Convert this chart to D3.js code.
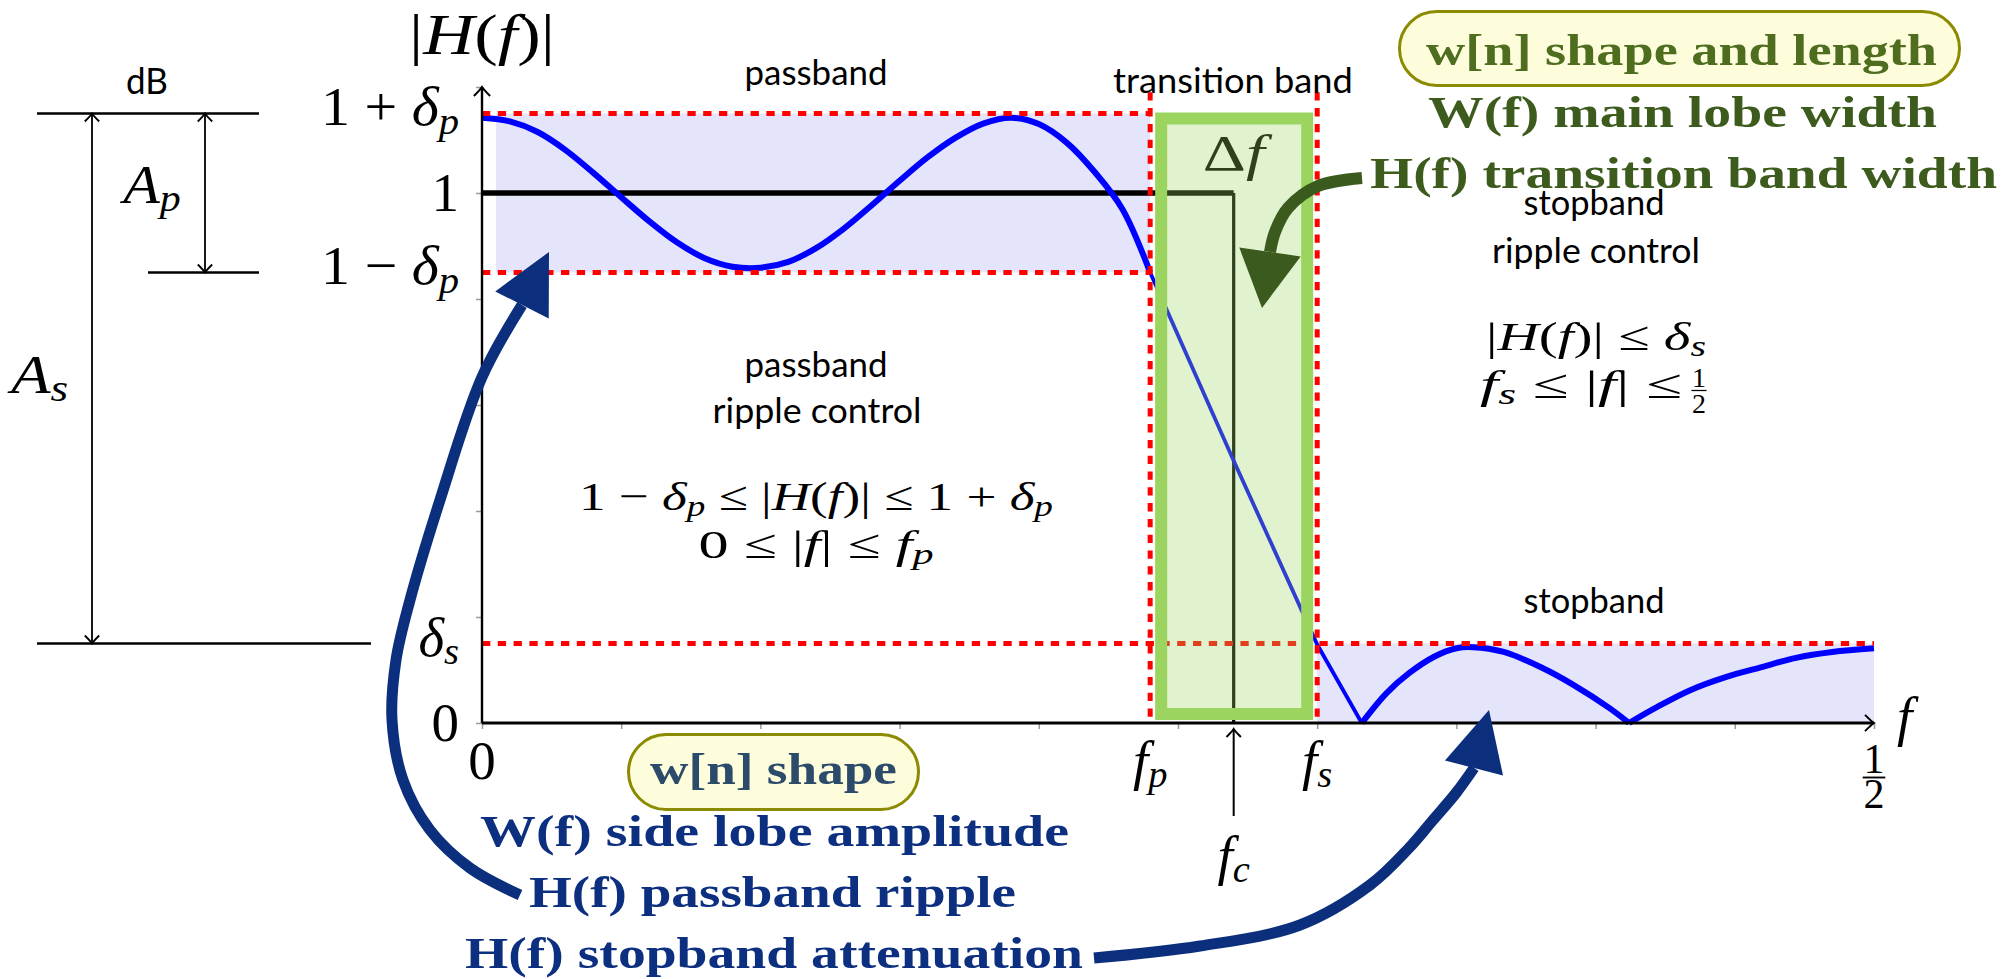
<!DOCTYPE html>
<html>
<head>
<meta charset="utf-8">
<script src="https://cdn.jsdelivr.net/npm/d3@7"></script>
<style>
  body { margin: 0; background: #fff; }
  text { white-space: pre; }
</style>
</head>
<body>
<svg id="chart" width="2002" height="979"></svg>
<script>
// filter spec (normalised frequency 0..1/2, linear magnitude)
const deltaP = 0.15;
const deltaS = 0.15;
const fPass = 0.24;
const fStop = 0.30;
const fCut = 0.27;

// |H(f)|
const passF = [0, 0.01, 0.02, 0.03, 0.04, 0.05, 0.06, 0.07, 0.08, 0.09, 0.10, 0.11, 0.12,
               0.13, 0.14, 0.15, 0.16, 0.17, 0.18, 0.19, 0.20, 0.21, 0.22, 0.23, 0.24];
const passH = [1.142, 1.135, 1.115, 1.081, 1.038, 0.992, 0.947, 0.907, 0.877, 0.861, 0.859, 0.870, 0.896,
               0.933, 0.977, 1.023, 1.067, 1.104, 1.131, 1.142, 1.130, 1.095, 1.040, 0.970, 0.850];
const transF = [0.24, 0.27, 0.30, 0.316];
const transH = [0.85, 0.495, 0.148, 0];
const stopF = [0.316, 0.325, 0.333, 0.342, 0.350, 0.356, 0.367, 0.380, 0.392, 0.405, 0.412,
               0.422, 0.434, 0.447, 0.460, 0.472, 0.485, 0.500];
const stopH = [0, 0.057, 0.094, 0.125, 0.141, 0.143, 0.134, 0.106, 0.072, 0.028, 0,
               0.030, 0.062, 0.087, 0.106, 0.123, 0.134, 0.141];

// ideal low-pass
const idealF = [0, fCut, fCut];
const idealH = [1, 1, 0];

// ticks and labels
const xTicks = [0, 0.05, 0.10, 0.15, 0.20, 0.25, 0.30, 0.35, 0.40, 0.45, 0.50];
const yTicks = [0, 0.2, 0.4, 0.6, 0.8, 1.0, 1.2];
const xLabelVals = [0, fPass, fStop];
const xLabels = ["0", "f_p", "f_s"];
const yLabelVals = [1 + deltaP, 1, 1 - deltaP, deltaS, 0];
const yLabels = ["1 + δ_p", "1", "1 − δ_p", "δ_s", "0"];

const serif = "'Liberation Serif', 'Times New Roman', serif";
const sans = "Lato, 'Open Sans', sans-serif";

const svg = d3.select("#chart");
const x = d3.scaleLinear().domain([0, 0.5]).range([482, 1874]);
const y = d3.scaleLinear().domain([0, 1.2]).range([723, 87]);

// letters italic, digits/symbols upright, "_c" -> subscript
function mathText(t, str, size) {
  const runs = [];
  for (let i = 0; i < str.length; i++) {
    let c = str[i], sub = false;
    if (c === "_") { sub = true; c = str[++i]; }
    const it = /[A-Za-zα-ω]/.test(c);
    const last = runs[runs.length - 1];
    if (last && last.it === it && last.sub === sub) last.t += c;
    else runs.push({ t: c, it: it, sub: sub });
  }
  let down = false;
  runs.forEach(r => {
    const ts = t.append("tspan").text(r.t).attr("font-style", r.it ? "italic" : "normal");
    if (r.sub) {
      ts.attr("font-size", size * 0.7);
      if (!down) { ts.attr("dy", size * 0.15); down = true; }
    } else if (down) {
      ts.attr("dy", -size * 0.15); down = false;
    }
  });
  return t;
}

// stretch a text horizontally (about its anchor) to the width it has in the figure
function fit(t, w) {
  if (!w) return t;
  const ax = +t.attr("x");
  const s = w / t.node().getBBox().width;
  t.attr("transform", `translate(${ax},0) scale(${s},1) translate(${-ax},0)`);
  return t;
}

function math(px, py, str, size, anchor, w) {
  const t = svg.append("text")
    .attr("x", px).attr("y", py)
    .attr("font-family", serif).attr("font-size", size)
    .attr("text-anchor", anchor || "middle");
  return fit(mathText(t, str, size), w);
}

function label(px, py, str, size, w) {
  const t = svg.append("text").attr("x", px).attr("y", py)
    .attr("font-family", sans).attr("font-size", size)
    .attr("text-anchor", "middle").text(str);
  return fit(t, w);
}

function fraction(cx, numY, barY, denY, size) {
  svg.append("text").attr("x", cx).attr("y", numY).attr("font-family", serif)
    .attr("font-size", size).attr("text-anchor", "middle").text("1");
  svg.append("line").attr("x1", cx - size * 0.27).attr("x2", cx + size * 0.27)
    .attr("y1", barY).attr("y2", barY).attr("stroke", "black").attr("stroke-width", size * 0.045);
  svg.append("text").attr("x", cx).attr("y", denY).attr("font-family", serif)
    .attr("font-size", size).attr("text-anchor", "middle").text("2");
}

function tikzArrow(px, py, angle, size, width) {
  const s = size || 8;
  svg.append("path")
    .attr("d", `M${-s},${-s * 0.9} Q${-s * 0.25},${-s * 0.15} 0,0 Q${-s * 0.25},${s * 0.15} ${-s},${s * 0.9}`)
    .attr("transform", `translate(${px},${py}) rotate(${angle})`)
    .attr("fill", "none").attr("stroke", "black").attr("stroke-width", width || 1.8);
}

function fatArrow(points, tip, halfW, color, width) {
  const base = points[points.length - 1];
  svg.append("path")
    .attr("d", d3.line().curve(d3.curveCatmullRom.alpha(0.5))(points))
    .attr("fill", "none").attr("stroke", color).attr("stroke-width", width);
  const dx = tip[0] - base[0], dy = tip[1] - base[1];
  const len = Math.hypot(dx, dy);
  const nx = -dy / len, ny = dx / len;
  svg.append("path")
    .attr("d", `M${base[0] + nx * halfW},${base[1] + ny * halfW} L${tip[0]},${tip[1]} L${base[0] - nx * halfW},${base[1] - ny * halfW} Z`)
    .attr("fill", color);
}

// tolerance shading
svg.append("rect")
  .attr("x", x(0.005)).attr("y", y(1 + deltaP))
  .attr("width", x(fPass) - x(0.005)).attr("height", y(1 - deltaP) - y(1 + deltaP))
  .attr("fill", "#e4e4fa");
svg.append("rect")
  .attr("x", x(fStop)).attr("y", y(deltaS))
  .attr("width", x(0.5) - x(fStop)).attr("height", y(0) - y(deltaS))
  .attr("fill", "#e4e4fa");

// ideal response
svg.append("line").attr("x1", x(idealF[0])).attr("x2", x(idealF[1]))
  .attr("y1", y(idealH[0])).attr("y2", y(idealH[1]))
  .attr("stroke", "black").attr("stroke-width", 5.5);
svg.append("line").attr("x1", x(idealF[1])).attr("x2", x(idealF[2]))
  .attr("y1", y(idealH[1])).attr("y2", y(idealH[2]))
  .attr("stroke", "black").attr("stroke-width", 3.2);

// delta f (sits under the translucent box)
math(x(fCut), 170, "Δf", 50, "middle", 70);

// actual response
const zip = (F, Hs) => F.map((f, i) => [f, Hs[i]]);
const resp = d3.line().x(d => x(d[0])).y(d => y(d[1]));
svg.append("path").attr("d", resp.curve(d3.curveCatmullRom.alpha(0.5))(zip(passF, passH)))
  .attr("fill", "none").attr("stroke", "#0000ff").attr("stroke-width", 6);
svg.append("path").attr("d", resp.curve(d3.curveLinear)(zip(transF, transH)))
  .attr("fill", "none").attr("stroke", "#0000ff").attr("stroke-width", 3.8);
// split the stopband at its zeros so the notches stay sharp
let lobe = [];
zip(stopF, stopH).forEach((p, i) => {
  lobe.push(p);
  if ((p[1] === 0 && lobe.length > 1) || i === stopF.length - 1) {
    svg.append("path").attr("d", resp.curve(d3.curveCatmullRom.alpha(0.5))(lobe))
      .attr("fill", "none").attr("stroke", "#0000ff").attr("stroke-width", 6);
    lobe = [p];
  }
});

// spec limits
function redDash(x1, y1, x2, y2) {
  svg.append("line").attr("x1", x1).attr("y1", y1).attr("x2", x2).attr("y2", y2)
    .attr("stroke", "#ff0000").attr("stroke-width", 5).attr("stroke-dasharray", "8.3 7.5");
}
redDash(x(0), y(1 + deltaP), x(fPass), y(1 + deltaP));
redDash(x(0), y(1 - deltaP), x(fPass), y(1 - deltaP));
redDash(x(0), y(deltaS), x(0.5), y(deltaS));
redDash(x(fPass), y(1.19), x(fPass), y(0));
redDash(x(fStop), y(1.19), x(fStop), y(0));

// transition band box
svg.append("rect")
  .attr("x", x(fPass) + 11).attr("y", y(1 + deltaP) + 5)
  .attr("width", x(fStop) - x(fPass) - 21).attr("height", y(0) - 9 - y(1 + deltaP) - 5)
  .attr("fill", "#9bd45e").attr("fill-opacity", 0.3)
  .attr("stroke", "#9bd45e").attr("stroke-width", 12);

// axes
const gx = svg.append("g").attr("transform", `translate(0,${y(0)})`)
  .call(d3.axisBottom(x).tickValues(xTicks).tickFormat("").tickSize(6).tickSizeOuter(0));
gx.select(".domain").remove();
gx.selectAll(".tick line").attr("stroke", "#999").attr("stroke-width", 1.5);
const gy = svg.append("g").attr("transform", `translate(${x(0)},0)`)
  .call(d3.axisLeft(y).tickValues(yTicks).tickFormat("").tickSize(6).tickSizeOuter(0));
gy.select(".domain").remove();
gy.selectAll(".tick line").attr("stroke", "#999").attr("stroke-width", 1.5);

svg.append("line").attr("x1", x(0)).attr("x2", x(0.5)).attr("y1", y(0)).attr("y2", y(0))
  .attr("stroke", "black").attr("stroke-width", 3);
tikzArrow(x(0.5), y(0), 0, 9, 2);
svg.append("line").attr("x1", x(0)).attr("x2", x(0)).attr("y1", y(0)).attr("y2", y(1.2))
  .attr("stroke", "black").attr("stroke-width", 2.4);
tikzArrow(x(0), y(1.2), -90, 9, 2);

// tick labels
const yLabelW = [138, null, 138, null, null];
yLabelVals.forEach((v, i) => {
  math(459, y(v) + (yLabels[i].includes("_") ? 12 : 18), yLabels[i], 55, "end", yLabelW[i]);
});
xLabelVals.forEach((v, i) => {
  math(x(v), 779, xLabels[i], 55);
});
fraction(x(0.5), 773, 777.5, 808, 42);
math(1897, 735, "f", 55, "start");
math(x(0), 54, "|H(f)|", 56, "middle", 146);

// cutoff marker
svg.append("line").attr("x1", x(fCut)).attr("x2", x(fCut)).attr("y1", 816).attr("y2", 729)
  .attr("stroke", "black").attr("stroke-width", 2);
tikzArrow(x(fCut), 729, -90, 8, 2);
math(x(fCut), 874, "f_c", 55);

// dB side diagram
const dbLine = (x1, x2, v) => svg.append("line").attr("x1", x1).attr("x2", x2)
  .attr("y1", y(v)).attr("y2", y(v)).attr("stroke", "black").attr("stroke-width", 2.5);
dbLine(37, 259, 1 + deltaP);
dbLine(148, 259, 1 - deltaP);
dbLine(37, 371, deltaS);
function dimArrow(px, v1, v2) {
  svg.append("line").attr("x1", px).attr("x2", px).attr("y1", y(v1)).attr("y2", y(v2))
    .attr("stroke", "black").attr("stroke-width", 1.8);
  tikzArrow(px, y(v1), -90, 8, 1.8);
  tikzArrow(px, y(v2), 90, 8, 1.8);
}
dimArrow(92, 1 + deltaP, deltaS);
dimArrow(205, 1 + deltaP, 1 - deltaP);
math(152, 203, "A_p", 55, "middle", 62);
math(11, 393, "A_s", 55, "start", 62);
label(147, 94, "dB", 36, 42);

// region labels
label(816, 85, "passband", 34, 143);
label(1233, 93, "transition band", 34, 240);
label(1594, 215, "stopband", 34, 141);
label(1596, 263, "ripple control", 34, 208);
label(816, 377, "passband", 34, 143);
label(817, 423, "ripple control", 34, 209);
label(1594, 613, "stopband", 34, 141);

math(816, 510, "1 − δ_p ≤ |H(f)| ≤ 1 + δ_p", 41, "middle", 474);
math(816, 558, "0 ≤ |f| ≤ f_p", 41, "middle", 235);
math(1596, 350, "|H(f)| ≤ δ_s", 41, "middle", 220);
math(1480, 398, "f_s ≤ |f| ≤", 41, "start", 202);
fraction(1699, 387, 390.5, 413, 28);

// window annotations
function pill(px, py, w, h) {
  svg.append("rect").attr("x", px).attr("y", py).attr("width", w).attr("height", h)
    .attr("rx", h / 2).attr("fill", "#fdfddc").attr("stroke", "#8c8a00").attr("stroke-width", 3);
}
function boldText(px, py, w, str, color) {
  svg.append("text").attr("x", px).attr("y", py)
    .attr("font-family", serif).attr("font-weight", "bold").attr("font-size", 45)
    .attr("textLength", w).attr("lengthAdjust", "spacingAndGlyphs")
    .attr("fill", color).text(str);
}

pill(1399.5, 11.5, 560, 74);
boldText(1426, 65, 511, "w[n] shape and length", "#4e6d1f");
boldText(1428, 127, 509, "W(f) main lobe width", "#3c5b1d");
boldText(1370, 188, 627, "H(f) transition band width", "#3c5b1d");

pill(628.5, 734.5, 290, 75);
boldText(650, 784, 247, "w[n] shape", "#2c4b6b");
boldText(480, 846, 589, "W(f) side lobe amplitude", "#0c2f7f");
boldText(529, 907, 487, "H(f) passband ripple", "#0c2f7f");
boldText(465, 968, 618, "H(f) stopband attenuation", "#0c2f7f");

// curved pointers
fatArrow([[1362, 178], [1318, 186], [1288, 208], [1275, 232], [1270, 252]],
  [1262, 308], 31, "#3b5a1e", 12);
fatArrow([[520, 895], [470, 868], [430, 830], [403, 780], [392, 720], [396, 660],
  [410, 600], [440, 500], [482, 377], [522, 305]],
  [549, 252], 30, "#0b2f7d", 11);
fatArrow([[1094, 958], [1200, 946], [1300, 925], [1370, 885], [1409, 848],
  [1433, 820], [1456, 793], [1474, 768]],
  [1489, 710], 30, "#0b2f7d", 11);
</script>
</body>
</html>
